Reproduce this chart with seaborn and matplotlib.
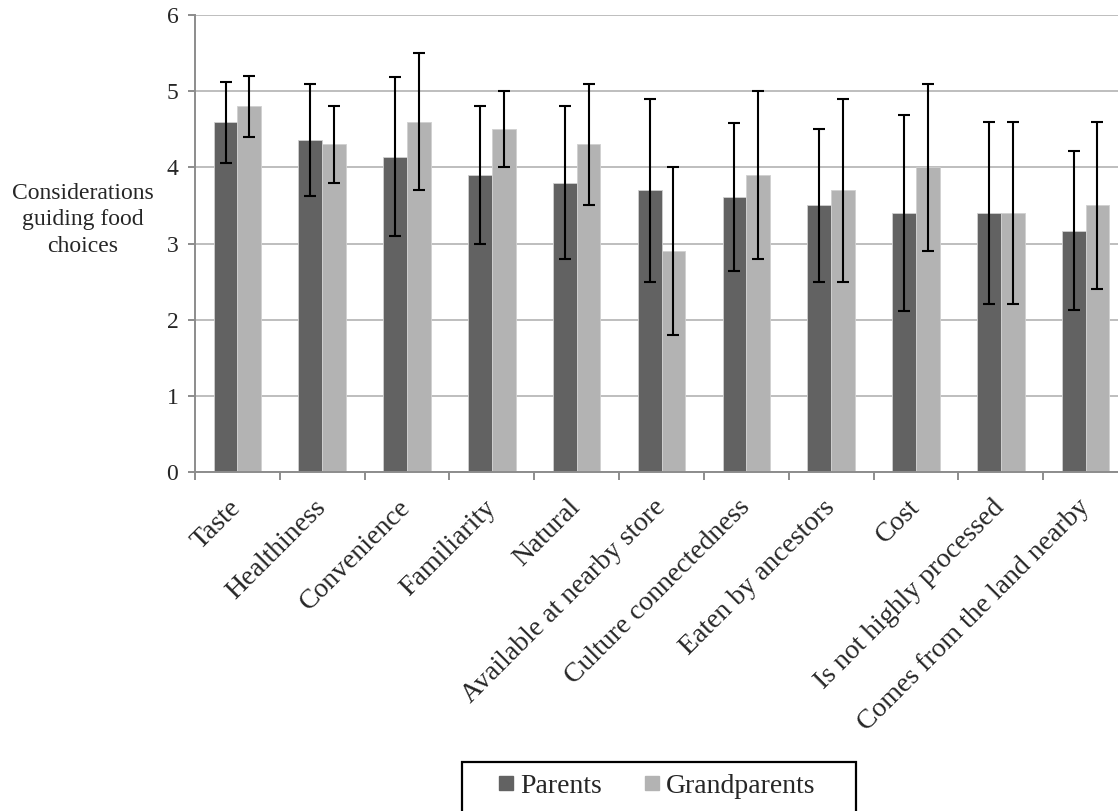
import matplotlib
matplotlib.use("Agg")
import matplotlib.pyplot as plt
from matplotlib.lines import Line2D
from matplotlib.patches import Rectangle
import numpy as np
import pandas as pd
import seaborn as sns

# Mean ratings and standard deviations for each consideration
considerations = [
    "Taste", "Healthiness", "Convenience", "Familiarity", "Natural",
    "Available at nearby store", "Culture connectedness", "Eaten by ancestors",
    "Cost", "Is not highly processed", "Comes from the land nearby",
]
groups = ["Parents", "Grandparents"]
parents_mean = [4.59, 4.36, 4.14, 3.90, 3.80, 3.70, 3.61, 3.50, 3.40, 3.40, 3.17]
parents_sd = [0.53, 0.74, 1.04, 0.90, 1.00, 1.20, 0.97, 1.00, 1.29, 1.20, 1.04]
grandparents_mean = [4.80, 4.30, 4.60, 4.50, 4.30, 2.90, 3.90, 3.70, 4.00, 3.40, 3.50]
grandparents_sd = [0.40, 0.50, 0.90, 0.50, 0.80, 1.10, 1.10, 1.20, 1.10, 1.20, 1.10]
y_ticks = [0, 1, 2, 3, 4, 5, 6]

colors = {"Parents": "#626262", "Grandparents": "#B3B3B3"}

df = pd.DataFrame({
    "consideration": considerations * 2,
    "group": ["Parents"] * len(considerations) + ["Grandparents"] * len(considerations),
    "mean": parents_mean + grandparents_mean,
})
sd_lookup = {"Parents": parents_sd, "Grandparents": grandparents_sd}
mean_lookup = {"Parents": parents_mean, "Grandparents": grandparents_mean}

sns.set_theme(style="white")
plt.rcParams["font.family"] = ["Liberation Serif", "DejaVu Serif"]

W, H = 1118, 811
fig = plt.figure(figsize=(W / 100, H / 100), dpi=100)
ax = fig.add_axes([195 / W, 1 - 472 / H, (1128 - 195) / W, (472 - 15) / H])

sns.barplot(
    data=df, x="consideration", y="mean", hue="group",
    order=considerations, hue_order=groups, palette=colors,
    errorbar=None, width=0.56, saturation=1, ax=ax,
    edgecolor="#D0D0D0", linewidth=0.6, legend=False, zorder=2,
)

# Standard-deviation whiskers on each bar
for grp, container in zip(groups, ax.containers):
    xs = [b.get_x() + b.get_width() / 2 for b in container]
    ax.errorbar(xs, mean_lookup[grp], yerr=sd_lookup[grp], fmt="none",
                ecolor="black", elinewidth=1.5, capsize=4.0, capthick=1.5, zorder=3)

ax.set_xlim(-0.5, len(considerations) - 0.5)
ax.set_ylim(0, 6)
ax.set_yticks(y_ticks)
ax.yaxis.grid(True, color="#BEBEBE", linewidth=1.4, zorder=0)
ax.xaxis.grid(False)
ax.set_axisbelow(True)

for side in ["top", "right"]:
    ax.spines[side].set_visible(False)
for side in ["left", "bottom"]:
    ax.spines[side].set_color("#8C8C8C")
    ax.spines[side].set_linewidth(1.4)

# Category labels at bar-group centres, tick marks on the boundaries
ax.set_xticks(np.arange(len(considerations)))
ax.set_xticklabels(considerations, rotation=45, ha="right", va="center",
                   rotation_mode="anchor", fontsize=20)
ax.tick_params(axis="x", which="major", length=0, pad=23)
ax.set_xticks(np.arange(len(considerations) + 1) - 0.5, minor=True)
ax.tick_params(axis="x", which="minor", length=6, width=1.4, color="#8C8C8C",
               direction="out", bottom=True)
ax.tick_params(axis="y", length=5, width=1.4, color="#8C8C8C", direction="out",
               left=True, labelsize=17, pad=7)
ax.set_xlabel("")

ax.set_ylabel("Considerations\nguiding food\nchoices", rotation=0, fontsize=17,
              ha="center", va="center", linespacing=1.36)
ax.yaxis.set_label_coords((83 - 195) / (1128 - 195), (472 - 220) / (472 - 15))

# Legend entries plus a separate outline box running off the bottom edge
handles = [Line2D([], [], linestyle="none", marker="s", markersize=10,
                  markerfacecolor=colors[g], markeredgecolor=colors[g]) for g in groups]
fig.legend(handles, groups, ncol=2, loc="center left",
           bbox_to_anchor=(498 / W, 1 - 786 / H), borderaxespad=0, borderpad=0,
           fontsize=20, handlelength=0.6, handletextpad=0.2,
           columnspacing=1.5, frameon=False)
fig.patches.append(Rectangle((462 / W, -0.02), (856 - 462) / W, 0.02 + 1 - 762 / H,
                             transform=fig.transFigure, fill=False,
                             edgecolor="black", linewidth=1.6))

fig.savefig("out.png", dpi=100)
